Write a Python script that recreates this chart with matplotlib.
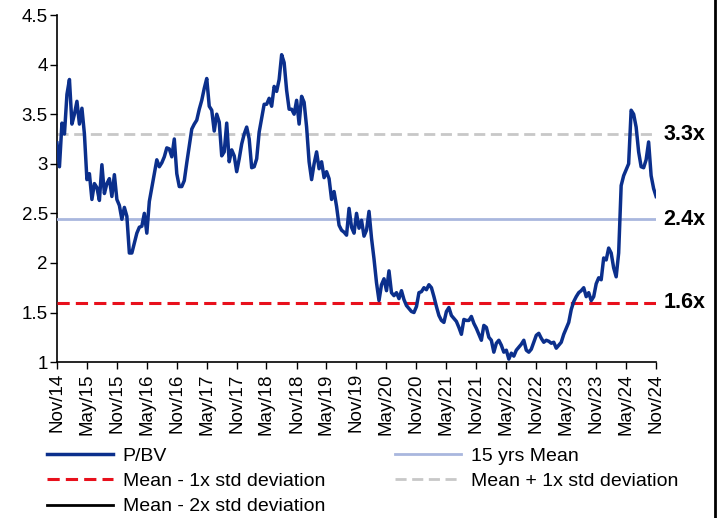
import numpy as np
import pandas as pd
import matplotlib
matplotlib.use("Agg")
import matplotlib.pyplot as plt
import matplotlib.dates as mdates
from matplotlib.lines import Line2D

plt.rcParams['font.family'] = ['Liberation Sans', 'DejaVu Sans']

# semi-monthly P/BV readings, Nov-2014 .. Nov-2024
pbv = [3.21, 2.97, 3.41, 3.30, 3.70, 3.85, 3.40, 3.50, 3.63, 3.40,
       3.56, 3.30, 2.84, 2.90, 2.64, 2.80, 2.76, 2.63, 2.99, 2.70,
       2.80, 2.85, 2.67, 2.89, 2.64, 2.58, 2.44, 2.56, 2.47, 2.10,
       2.10, 2.20, 2.30, 2.36, 2.37, 2.50, 2.30, 2.62, 2.76, 2.90,
       3.04, 2.97, 3.01, 3.07, 3.16, 3.15, 3.07, 3.25, 2.90, 2.77,
       2.77, 2.83, 3.01, 3.18, 3.35, 3.40, 3.44, 3.55, 3.64, 3.76,
       3.86, 3.58, 3.54, 3.33, 3.50, 3.42, 3.08, 3.12, 3.41, 3.02,
       3.14, 3.08, 2.92, 3.05, 3.20, 3.30, 3.37, 3.25, 2.96, 2.97,
       3.05, 3.32, 3.46, 3.60, 3.60, 3.66, 3.58, 3.78, 3.73, 3.85,
       4.10, 4.02, 3.74, 3.55, 3.55, 3.50, 3.64, 3.40, 3.68, 3.62,
       3.37, 3.02, 2.84, 3.00, 3.12, 2.95, 3.02, 2.86, 2.92, 2.85,
       2.64, 2.72, 2.57, 2.38, 2.33, 2.31, 2.28, 2.55, 2.36, 2.30,
       2.50, 2.35, 2.43, 2.27, 2.33, 2.52, 2.25, 2.04, 1.80, 1.62,
       1.78, 1.84, 1.72, 1.92, 1.70, 1.67, 1.70, 1.64, 1.72, 1.63,
       1.57, 1.54, 1.51, 1.50, 1.56, 1.70, 1.71, 1.75, 1.73, 1.78,
       1.75, 1.66, 1.56, 1.47, 1.42, 1.40, 1.51, 1.55, 1.47, 1.44,
       1.41, 1.35, 1.28, 1.43, 1.42, 1.42, 1.46, 1.39, 1.34, 1.28,
       1.22, 1.37, 1.35, 1.25, 1.22, 1.10, 1.19, 1.22, 1.17, 1.10,
       1.12, 1.03, 1.09, 1.06, 1.12, 1.15, 1.18, 1.22, 1.12, 1.10,
       1.13, 1.20, 1.27, 1.29, 1.24, 1.20, 1.22, 1.21, 1.19, 1.20,
       1.14, 1.17, 1.20, 1.28, 1.34, 1.40, 1.53, 1.61, 1.66, 1.70,
       1.72, 1.75, 1.66, 1.70, 1.62, 1.66, 1.79, 1.85, 1.83, 2.05,
       2.03, 2.15, 2.10, 1.95, 1.86, 2.10, 2.78, 2.88, 2.94, 3.00,
       3.54, 3.50, 3.37, 3.12, 2.97, 2.96, 3.04, 3.22, 2.88, 2.75,
       2.67]
dates = pd.date_range("2014-11-01", "2024-11-01", periods=len(pbv))

mean_val = 2.44
plus_1sd = 3.30
minus_1sd = 1.60
minus_2sd = 0.75
level_labels = ["3.3x", "2.4x", "1.6x"]

fig = plt.figure(figsize=(7.21, 5.18), dpi=100)
ax = fig.add_axes([0.079, 0.301, 0.831, 0.670])

ax.plot(dates, pbv, color="#0b2f8c", lw=2.5, label="P/BV", zorder=5)
ax.plot(dates, np.full(len(dates), mean_val), color="#a9b7de", lw=2.0,
        label="15 yrs Mean", zorder=3)
ax.plot(dates, np.full(len(dates), minus_1sd), color="#e8101c", lw=2.2,
        ls=(0, (4, 2)), label="Mean - 1x std deviation", zorder=4)
ax.plot(dates, np.full(len(dates), plus_1sd), color="#c8c8c8", lw=2.0,
        ls=(0, (4, 2)), label="Mean + 1x std deviation", zorder=2)
ax.plot(dates, np.full(len(dates), minus_2sd), color="black", lw=2.0,
        label="Mean - 2x std deviation")

for lvl, txt in zip([plus_1sd, mean_val, minus_1sd], level_labels):
    ax.text(1.012, lvl, txt, transform=ax.get_yaxis_transform(),
            fontsize=15.5, fontweight="bold", va="center", ha="left")

ax.set_xlim(pd.Timestamp("2014-11-01"), pd.Timestamp("2024-11-01"))
ax.set_ylim(1, 4.5)
ax.set_yticks([1, 1.5, 2, 2.5, 3, 3.5, 4, 4.5])
ax.set_yticklabels(["1", "1.5", "2", "2.5", "3", "3.5", "4", "4.5"])
ax.xaxis.set_major_locator(mdates.MonthLocator(bymonth=[5, 11], bymonthday=1))
ax.xaxis.set_major_formatter(mdates.DateFormatter("%b/%y"))
ax.tick_params(axis="x", rotation=90, labelsize=13.5, length=5, width=1, pad=3)
ax.tick_params(axis="y", labelsize=13.5, length=5, width=1, pad=1.5)
for s in ["top", "right"]:
    ax.spines[s].set_visible(False)
ax.spines["left"].set_linewidth(1.2)
ax.spines["bottom"].set_linewidth(1.2)

handles, labels = ax.get_legend_handles_labels()
order = [0, 2, 4, 1, 3]
fig.legend([handles[i] for i in order], [labels[i] for i in order],
           loc="upper left", bbox_to_anchor=(0.065, 0.137), ncol=2,
           frameon=False, fontsize=14, handlelength=3.4, handletextpad=0.5,
           columnspacing=3.6, labelspacing=0.4, borderpad=0, borderaxespad=0)

fig.add_artist(Line2D([0.992, 0.992], [0, 1], color="black", lw=2,
                      transform=fig.transFigure))

fig.savefig("out.png", dpi=100)
